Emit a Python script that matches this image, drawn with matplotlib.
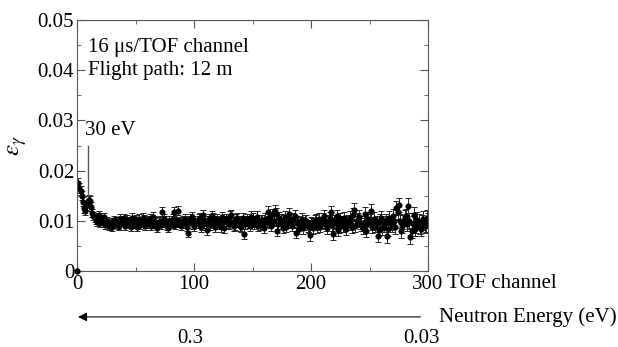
import matplotlib
matplotlib.use("Agg")
import matplotlib.pyplot as plt
from matplotlib.ticker import MultipleLocator
import numpy as np

plt.rcParams['font.family'] = ['Liberation Serif', 'DejaVu Serif']
plt.rcParams['mathtext.fontset'] = 'stix'

# TOF channels and gamma efficiency (odd and even channels)
channel_odd = list(range(1, 300, 2))
eff_odd = [0.0175, 0.0160, 0.0138, 0.0120, 0.0140, 0.0140, 0.0115, 0.0105, 0.0098, 0.0112,
           0.0100, 0.0108, 0.0096, 0.0090, 0.0098, 0.0094, 0.0100, 0.0092, 0.0104, 0.0098,
           0.0090, 0.0102, 0.0096, 0.0106, 0.0094, 0.0088, 0.0104, 0.0098, 0.0102, 0.0094,
           0.0100, 0.0090, 0.0108, 0.0096, 0.0092, 0.0100, 0.0118, 0.0096, 0.0090, 0.0100,
           0.0094, 0.0118, 0.0102, 0.0096, 0.0090, 0.0100, 0.0098, 0.0076, 0.0104, 0.0094,
           0.0100, 0.0096, 0.0106, 0.0092, 0.0100, 0.0082, 0.0104, 0.0110, 0.0096, 0.0100,
           0.0094, 0.0088, 0.0100, 0.0104, 0.0096, 0.0110, 0.0098, 0.0092, 0.0106, 0.0090,
           0.0100, 0.0074, 0.0104, 0.0096, 0.0108, 0.0094, 0.0098, 0.0090, 0.0100, 0.0094,
           0.0104, 0.0118, 0.0096, 0.0112, 0.0120, 0.0080, 0.0106, 0.0094, 0.0100, 0.0088,
           0.0114, 0.0096, 0.0104, 0.0076, 0.0098, 0.0092, 0.0086, 0.0100, 0.0090, 0.0072,
           0.0094, 0.0100, 0.0088, 0.0104, 0.0096, 0.0110, 0.0092, 0.0100, 0.0118, 0.0074,
           0.0096, 0.0082, 0.0104, 0.0090, 0.0098, 0.0094, 0.0106, 0.0088, 0.0122, 0.0100,
           0.0108, 0.0092, 0.0096, 0.0080, 0.0104, 0.0120, 0.0094, 0.0090, 0.0070, 0.0100,
           0.0086, 0.0096, 0.0070, 0.0106, 0.0092, 0.0100, 0.0126, 0.0132, 0.0080, 0.0098,
           0.0110, 0.0130, 0.0068, 0.0094, 0.0084, 0.0102, 0.0088, 0.0096, 0.0090, 0.0106]
channel_even = list(range(2, 301, 2))
eff_even = [0.0165, 0.0150, 0.0125, 0.0130, 0.0142, 0.0128, 0.0110, 0.0102, 0.0108, 0.0095,
            0.0104, 0.0092, 0.0100, 0.0094, 0.0088, 0.0102, 0.0096, 0.0090, 0.0100, 0.0106,
            0.0094, 0.0098, 0.0088, 0.0100, 0.0104, 0.0096, 0.0092, 0.0106, 0.0090, 0.0098,
            0.0104, 0.0094, 0.0100, 0.0086, 0.0098, 0.0092, 0.0104, 0.0100, 0.0086, 0.0096,
            0.0104, 0.0092, 0.0120, 0.0098, 0.0094, 0.0104, 0.0088, 0.0100, 0.0108, 0.0090,
            0.0096, 0.0104, 0.0088, 0.0112, 0.0096, 0.0100, 0.0092, 0.0106, 0.0088, 0.0104,
            0.0098, 0.0108, 0.0086, 0.0100, 0.0094, 0.0112, 0.0090, 0.0104, 0.0098, 0.0088,
            0.0106, 0.0094, 0.0100, 0.0090, 0.0104, 0.0098, 0.0108, 0.0092, 0.0100, 0.0086,
            0.0098, 0.0106, 0.0090, 0.0100, 0.0114, 0.0094, 0.0102, 0.0086, 0.0108, 0.0096,
            0.0102, 0.0090, 0.0110, 0.0096, 0.0084, 0.0104, 0.0094, 0.0100, 0.0088, 0.0096,
            0.0086, 0.0102, 0.0094, 0.0090, 0.0104, 0.0098, 0.0086, 0.0106, 0.0092, 0.0100,
            0.0110, 0.0088, 0.0098, 0.0106, 0.0084, 0.0100, 0.0094, 0.0112, 0.0090, 0.0102,
            0.0096, 0.0086, 0.0114, 0.0094, 0.0100, 0.0088, 0.0104, 0.0096, 0.0082, 0.0106,
            0.0092, 0.0100, 0.0084, 0.0096, 0.0110, 0.0088, 0.0118, 0.0100, 0.0090, 0.0108,
            0.0094, 0.0100, 0.0080, 0.0112, 0.0090, 0.0098, 0.0084, 0.0104, 0.0092, 0.0100]
# error per 2-channel bin, shared by odd and even channels
err = [0.0010, 0.0009, 0.0009, 0.0008, 0.0009, 0.0009, 0.0008, 0.0008, 0.0008, 0.0008,
       0.0008, 0.0008, 0.0008, 0.0008, 0.0008, 0.0008, 0.0008, 0.0008, 0.0009, 0.0008,
       0.0008, 0.0009, 0.0008, 0.0009, 0.0008, 0.0008, 0.0009, 0.0009, 0.0009, 0.0009,
       0.0009, 0.0009, 0.0009, 0.0009, 0.0009, 0.0009, 0.0009, 0.0009, 0.0009, 0.0009,
       0.0009, 0.0009, 0.0009, 0.0009, 0.0009, 0.0009, 0.0009, 0.0009, 0.0010, 0.0010,
       0.0010, 0.0010, 0.0010, 0.0010, 0.0010, 0.0010, 0.0010, 0.0010, 0.0010, 0.0010,
       0.0010, 0.0010, 0.0010, 0.0010, 0.0010, 0.0010, 0.0010, 0.0010, 0.0010, 0.0010,
       0.0010, 0.0010, 0.0010, 0.0010, 0.0011, 0.0011, 0.0011, 0.0011, 0.0011, 0.0011,
       0.0011, 0.0011, 0.0011, 0.0011, 0.0011, 0.0011, 0.0011, 0.0011, 0.0011, 0.0011,
       0.0011, 0.0011, 0.0011, 0.0011, 0.0011, 0.0011, 0.0012, 0.0012, 0.0012, 0.0012,
       0.0012, 0.0012, 0.0012, 0.0012, 0.0012, 0.0012, 0.0012, 0.0012, 0.0012, 0.0012,
       0.0012, 0.0012, 0.0012, 0.0012, 0.0012, 0.0012, 0.0013, 0.0013, 0.0013, 0.0013,
       0.0013, 0.0013, 0.0013, 0.0013, 0.0013, 0.0013, 0.0013, 0.0013, 0.0013, 0.0013,
       0.0014, 0.0014, 0.0014, 0.0014, 0.0014, 0.0014, 0.0014, 0.0014, 0.0014, 0.0014,
       0.0014, 0.0015, 0.0015, 0.0015, 0.0015, 0.0015, 0.0015, 0.0015, 0.0015, 0.0015]

peak_channel = 9
peak_top = 0.025
peak_bottom = 0.0142
energy_ticks = [(97, '0.3'), (294, '0.03')]
yticks = [0, 0.01, 0.02, 0.03, 0.04, 0.05]
ytick_labels = ['0', '0.01', '0.02', '0.03', '0.04', '0.05']

fs = 15
fig = plt.figure(figsize=(6.18, 3.47), dpi=100)
ax = fig.add_axes([0.1246, 0.219, 0.568, 0.723])

for ch, ef in [(channel_odd, eff_odd), (channel_even, eff_even)]:
    ax.errorbar(ch, ef, yerr=err, fmt='o', color='black', ms=3.4,
                elinewidth=0.7, capsize=2.2, capthick=0.7, ecolor='#222222')
ax.plot([0], [0], 'o', color='black', ms=3.5, clip_on=False, zorder=5)

# 30 eV resonance marker
ax.plot([peak_channel, peak_channel], [peak_bottom, peak_top], color='#555555', lw=1)
ax.text(peak_channel - 2, 0.0262, '30 eV', fontsize=fs, va='bottom', ha='left')

ax.text(0.03, 0.93, '16 \u03bcs/TOF channel\nFlight path: 12 m', transform=ax.transAxes,
        fontsize=fs, va='top', ha='left', linespacing=1.3)

ax.set_xlim(0, 300)
ax.set_ylim(0, 0.05)
ax.xaxis.set_major_locator(MultipleLocator(100))
ax.xaxis.set_minor_locator(MultipleLocator(50))
ax.set_yticks(yticks)
ax.set_yticklabels(ytick_labels)
ax.yaxis.set_minor_locator(MultipleLocator(0.005))
ax.tick_params(which='both', direction='in', top=True, right=True, labelsize=fs,
               color='#555555', pad=2)
ax.tick_params(axis='x', which='major', pad=3)
ax.tick_params(which='major', length=6)
ax.tick_params(which='minor', length=3)
for s in ax.spines.values():
    s.set_color('#555555')

ax.set_ylabel(r'$\varepsilon_\gamma$', fontsize=18, labelpad=6)

ax.text(1.055, -0.05, 'TOF channel', transform=ax.transAxes, fontsize=fs,
        va='center', ha='left')

# neutron energy arrow below the axis
ax.annotate('', xy=(-0.005, -0.183), xytext=(0.986, -0.183), xycoords='axes fraction',
            arrowprops=dict(arrowstyle='-|>', color='black', lw=0.8,
                            mutation_scale=13))
ax.text(1.031, -0.183, 'Neutron Energy (eV)', transform=ax.transAxes, fontsize=fs,
        va='center', ha='left')
for xv, lab in energy_ticks:
    ax.text(xv, -0.0134, lab, fontsize=fs, ha='center', va='center', clip_on=False)

fig.savefig('out.png', dpi=100)
